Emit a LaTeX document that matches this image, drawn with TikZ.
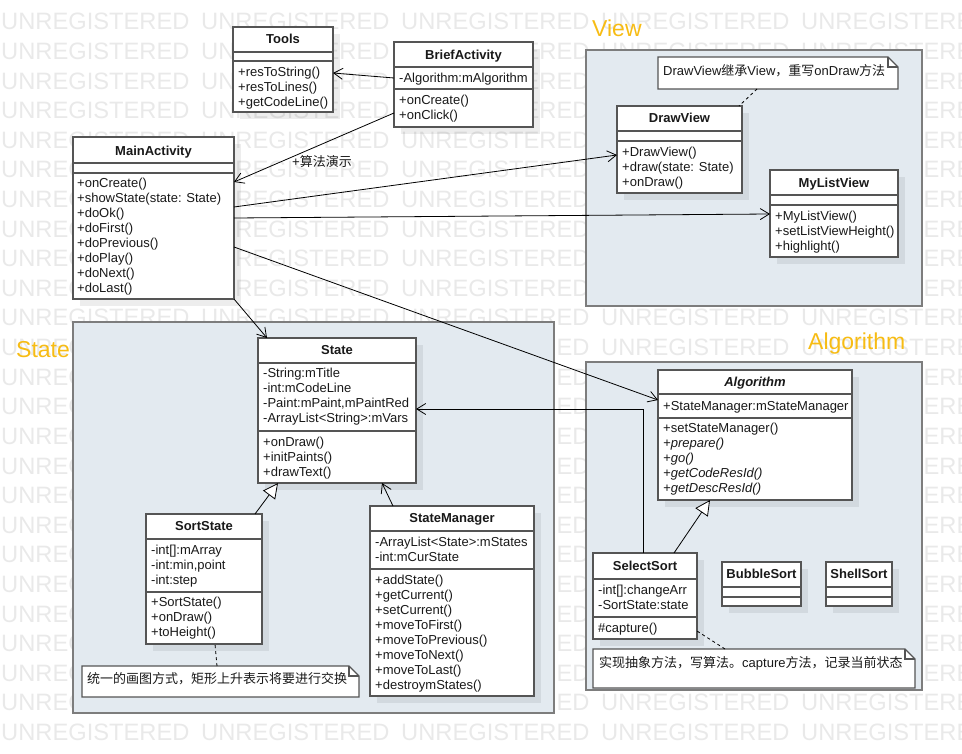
\documentclass[tikz,border=0pt]{standalone}
\usepackage{fontspec}
\setmainfont{Liberation Sans}
\newfontfamily\cjk{Noto Sans CJK SC}
\usetikzlibrary{arrows.meta,calc}

\definecolor{pkgfill}{RGB}{227,234,240}
\definecolor{pkgline}{RGB}{125,125,125}
\definecolor{boxline}{RGB}{85,85,85}
\definecolor{pkglabel}{RGB}{247,188,20}
\definecolor{wmgray}{RGB}{233,233,233}
\definecolor{inktext}{RGB}{25,25,25}

\tikzset{
  wm/.style={anchor=base west, inner sep=0, text=wmgray, font=\fontsize{23.7}{28}\selectfont},
  package/.style={draw=pkgline, fill=pkgfill, line width=1.6pt},
  pkgname/.style={anchor=base west, inner sep=0, text=pkglabel, font=\fontsize{23}{28}\selectfont},
  boxshadow/.style={fill=black, opacity=0.07},
  classnode/.style={draw=boxline, fill=white, line width=1.2pt, inner sep=0, outer sep=0, anchor=north west},
  sepline/.style={draw=boxline, line width=1.2pt},
  classtitle/.style={anchor=base, inner sep=0, text=inktext, font=\fontsize{13}{15}\selectfont\bfseries},
  member/.style={anchor=base west, inner sep=0, text=inktext, font=\fontsize{13}{15}\selectfont},
  noteframe/.style={draw=boxline, fill=white, line width=1.2pt},
  notenode/.style={inner sep=0, outer sep=0, anchor=north west},
  assoc/.style={draw=black, line width=0.8pt, -{Straight Barb[length=9pt,width=11pt]}},
  inherit/.style={draw=black, line width=0.8pt, -{Triangle[open,length=15pt,width=15pt,fill=white]}},
  anchorline/.style={draw=black, line width=0.8pt, dash pattern=on 3pt off 3pt},
}

% class frame with drop shadow: name, left, top, right, bottom
\newcommand\umlbox[5]{%
  \fill[boxshadow] (#2+7,#3+7) rectangle (#4+7,#5+7);
  \node[classnode, minimum width={(#4-#2)*1pt}, minimum height={(#5-#3)*1pt}] (#1) at (#2,#3) {};
}
% compartment rule: left, right, y
\newcommand\umlsep[3]{\draw[sepline] (#1,#3) -- (#2,#3);}
% member lines: prefix, x, first baseline, list
\newcommand\umllines[4]{%
  \foreach \memb [count=\mi] in {#4} {
    \node[member] (#1-\mi) at (#2, #3+15*\mi-15) {\memb};
  }
}
% note with folded corner: name, left, top, right, bottom
\newcommand\umlnote[5]{%
  \node[notenode, minimum width={(#4-#2)*1pt}, minimum height={(#5-#3)*1pt}] (#1) at (#2,#3) {};
  \filldraw[noteframe] (#1.north west) -- ($(#1.north east)+(-10,0)$) -- ($(#1.north east)+(0,10)$)
     -- (#1.south east) -- (#1.south west) -- cycle;
  \draw[noteframe, fill=none] ($(#1.north east)+(-10,0)$) -- ($(#1.north east)+(-10,10)$) -- ($(#1.north east)+(0,10)$);
}

\begin{document}
\begin{tikzpicture}[x=1pt, y=-1pt]
\useasboundingbox (0,0) rectangle (962,754);

% background watermark
\begin{scope}
  \clip (0,0) rectangle (962,754);
  \foreach \r in {0,...,24} {
    \foreach \c in {0,...,4} {
      \node[wm] (wm-\r-\c) at (200*\c+1, 30+29.6*\r) {UNREGISTERED};
    }
  }
\end{scope}

% packages
\draw[package] (586,50) rectangle (922,306);
\draw[package] (73,322) rectangle (554,713);
\draw[package] (586,362) rectangle (922,690);
\node[pkgname] (lbl-view) at (592,37) {View};
\node[pkgname] (lbl-state) at (16,357) {State};
\node[pkgname] (lbl-alg) at (808,349) {Algorithm};

% Tools
\umlbox{tools}{233}{27}{333}{112}
\umlsep{233}{333}{52}
\umlsep{233}{333}{61}
\node[classtitle] (tools-title) at (283,43.5) {Tools};
\umllines{tools-op}{238}{76.5}{+resToString(),+resToLines(),+getCodeLine()}

% BriefActivity
\umlbox{brief}{394}{42}{533}{127}
\umlsep{394}{533}{67}
\umlsep{394}{533}{89}
\node[classtitle] (brief-title) at (463.5,59.5) {BriefActivity};
\umllines{brief-at}{399}{82.5}{-Algorithm:mAlgorithm}
\umllines{brief-op}{399}{104.5}{+onCreate(),+onClick()}

% MainActivity
\umlbox{main}{73}{137}{234}{299}
\umlsep{73}{234}{163}
\umlsep{73}{234}{173}
\node[classtitle] (main-title) at (153.5,155.5) {MainActivity};
\umllines{main-op}{77}{187.5}{+onCreate(),+showState(state: State),+doOk(),+doFirst(),+doPrevious(),+doPlay(),+doNext(),+doLast()}

% DrawView
\umlbox{drawview}{617}{106}{742}{193}
\umlsep{617}{742}{131}
\umlsep{617}{742}{141}
\node[classtitle] (drawview-title) at (679.5,122.5) {DrawView};
\umllines{drawview-op}{622}{156.5}{+DrawView(),+draw(state: State),+onDraw()}

% MyListView
\umlbox{mylist}{770}{170}{898}{257}
\umlsep{770}{898}{195}
\umlsep{770}{898}{205}
\node[classtitle] (mylist-title) at (834,187.5) {MyListView};
\umllines{mylist-op}{775}{220.5}{+MyListView(),+setListViewHeight(),+highlight()}

% State
\umlbox{state}{258}{338}{416}{483}
\umlsep{258}{416}{363}
\umlsep{258}{416}{431}
\node[classtitle] (state-title) at (337,354.5) {State};
\umllines{state-at}{263}{377.5}{-String:mTitle,-int:mCodeLine,{-Paint:mPaint,mPaintRed},-ArrayList<String>:mVars}
\umllines{state-op}{263}{446}{+onDraw(),+initPaints(),+drawText()}

% SortState
\umlbox{sortstate}{146}{514}{262}{644}
\umlsep{146}{262}{539}
\umlsep{146}{262}{592}
\node[classtitle] (sortstate-title) at (204,530.5) {SortState};
\umllines{sortstate-at}{151}{554.5}{{-int[]:mArray},{-int:min,point},-int:step}
\umllines{sortstate-op}{151}{606.5}{+SortState(),+onDraw(),+toHeight()}

% StateManager
\umlbox{statemgr}{370}{506}{534}{696}
\umlsep{370}{534}{531}
\umlsep{370}{534}{569}
\node[classtitle] (statemgr-title) at (452,522.5) {StateManager};
\umllines{statemgr-at}{375}{546.5}{-ArrayList<State>:mStates,-int:mCurState}
\umllines{statemgr-op}{375}{584.5}{+addState(),+getCurrent(),+setCurrent(),+moveToFirst(),+moveToPrevious(),+moveToNext(),+moveToLast(),+destroymStates()}

% Algorithm (abstract)
\umlbox{alg}{658}{370}{852}{500}
\umlsep{658}{852}{394}
\umlsep{658}{852}{418}
\node[classtitle, font=\fontsize{13}{15}\selectfont\bfseries\itshape] (alg-title) at (755,386.5) {Algorithm};
\umllines{alg-at}{663}{410.5}{+StateManager:mStateManager}
\umllines{alg-op}{663}{432.5}{+setStateManager(),\textit{+prepare()},\textit{+go()},\textit{+getCodeResId()},\textit{+getDescResId()}}

% SelectSort
\umlbox{selectsort}{593}{553}{697}{639}
\umlsep{593}{697}{579}
\umlsep{593}{697}{617}
\node[classtitle] (selectsort-title) at (645,570.5) {SelectSort};
\umllines{selectsort-at}{598}{594.5}{{-int[]:changeArr},-SortState:state}
\umllines{selectsort-op}{598}{632.5}{\#capture()}

% BubbleSort
\umlbox{bubble}{722}{562}{801}{606}
\umlsep{722}{801}{587}
\umlsep{722}{801}{597}
\node[classtitle] (bubble-title) at (761.5,578.5) {BubbleSort};

% ShellSort
\umlbox{shell}{826}{562}{892}{606}
\umlsep{826}{892}{587}
\umlsep{826}{892}{597}
\node[classtitle] (shell-title) at (859,578.5) {ShellSort};

% notes
\umlnote{note1}{658}{57}{898}{89}
\node[member] (note1-text) at (663,76) {DrawView{\cjk 继承}View{\cjk ，重写}onDraw{\cjk 方法}};
\umlnote{note2}{82}{666}{359}{697}
\node[member] (note2-text) at (87,683.5) {{\cjk 统一的画图方式，矩形上升表示将要进行交换}};
\umlnote{note3}{593}{649}{915}{688}
\node[member] (note3-text) at (599,667.5) {{\cjk 实现抽象方法，写算法。}capture{\cjk 方法，记录当前状态}};

% associations
\draw[assoc] ($(brief.north west)+(0,36)$) -- ($(tools.north east)+(0,46)$);
\draw[assoc] ($(brief.south west)+(0,-14)$) -- ($(main.north east)+(0,45)$);
\node[member] (demo-label) at (292,167) {+{\cjk 算法演示}};
\draw[assoc] ($(main.north east)+(0,70)$) -- ($(drawview.north west)+(0,49)$);
\draw[assoc] ($(main.north east)+(0,81)$) -- ($(mylist.north west)+(0,44)$);
\draw[assoc] (main.south east) -- ($(state.north west)+(9,0)$);
\draw[assoc] ($(main.north east)+(0,110)$) -- ($(alg.north west)+(0,30)$);
\draw[assoc] ($(selectsort.north west)+(50,0)$) |- ($(state.north east)+(0,71)$);
\draw[assoc] ($(statemgr.north west)+(23,0)$) -- ($(state.south west)+(124,0)$);

% generalizations
\draw[inherit] ($(selectsort.north west)+(81,0)$) -- ($(alg.south west)+(52,0)$);
\draw[inherit] ($(sortstate.north west)+(109,0)$) -- ($(state.south west)+(20,0)$);

% note anchors
\draw[anchorline] ($(note1.south west)+(99,0)$) -- ($(drawview.north east)+(-3,0)$);
\draw[anchorline] ($(note2.north west)+(135,0)$) -- ($(sortstate.south west)+(69,0)$);
\draw[anchorline] ($(note3.north west)+(132,0)$) -- ($(selectsort.south east)+(0,-8)$);
\end{tikzpicture}
\end{document}
